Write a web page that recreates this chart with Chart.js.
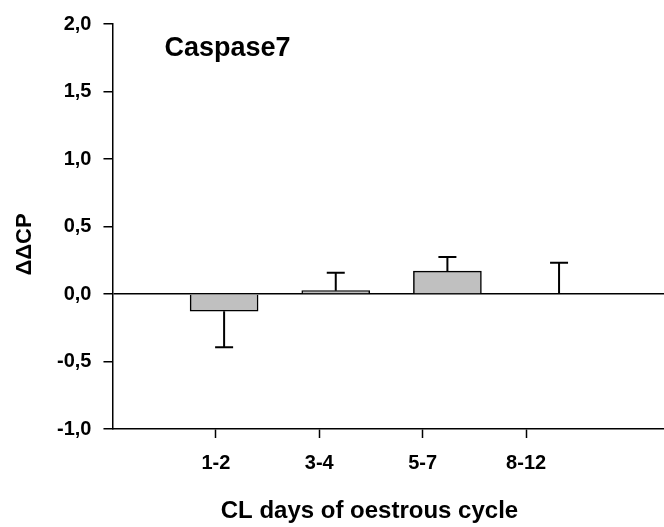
<!DOCTYPE html>
<html>
<head>
<meta charset="utf-8">
<script src="https://cdn.jsdelivr.net/npm/chart.js@4"></script>
<style>
  body { margin: 0; background: #fff; }
  #wrap { width: 664px; height: 527px; position: relative; }
</style>
</head>
<body>
<div id="wrap"><canvas id="chart"></canvas></div>
<script>
// data
const categories = ['1-2', '3-4', '5-7', '8-12'];
const ddcp = [-0.128, 0.025, 0.17, 0];
const sem = [0.267, 0.133, 0.104, 0.232];
const yTicks = [-1, -0.5, 0, 0.5, 1, 1.5, 2];
const chartTitle = 'Caspase7';
const xTitle = 'CL days of oestrous cycle';
const yTitle = 'ΔΔCP';

const FONT = "'Liberation Sans', Arial, sans-serif";

// one-sided error bars, drawn away from zero
const errorBars = {
    id: 'errorBars',
    afterDatasetsDraw(chart) {
        const xs = chart.scales.x;
        const ys = chart.scales.y;
        const ctx = chart.ctx;
        ctx.save();
        ctx.strokeStyle = '#000';
        ctx.lineWidth = 2;
        ddcp.forEach((v, i) => {
            const dir = v < 0 ? -1 : 1;
            const px = xs.getPixelForValue(i + 1);
            const y0 = ys.getPixelForValue(v);
            const y1 = ys.getPixelForValue(v + dir * sem[i]);
            ctx.beginPath();
            ctx.moveTo(px, y0);
            ctx.lineTo(px, y1);
            ctx.moveTo(px - 9, y1);
            ctx.lineTo(px + 9, y1);
            ctx.stroke();
        });
        ctx.restore();
    }
};

// gene name inside the plot + axis titles (placed off-centre like the original)
const texts = {
    id: 'texts',
    afterDraw(chart) {
        const a = chart.chartArea;
        const ctx = chart.ctx;
        ctx.save();
        ctx.fillStyle = '#000';
        ctx.textBaseline = 'alphabetic';
        ctx.font = 'bold 27px ' + FONT;
        ctx.fillText(chartTitle, a.left + 52, a.top + 32);

        ctx.font = 'bold 24px ' + FONT;
        ctx.textAlign = 'center';
        ctx.fillText(xTitle, a.left + 257, a.bottom + 89);

        ctx.translate(a.left - 88, (a.top + a.bottom) / 2 + 18);
        ctx.rotate(-Math.PI / 2);
        ctx.font = 'bold 22px ' + FONT;
        ctx.textBaseline = 'middle';
        ctx.fillText(yTitle, 0, 0);
        ctx.restore();
    }
};

new Chart(document.getElementById('chart'), {
    type: 'bar',
    data: {
        datasets: [{
            data: ddcp.map((v, i) => ({ x: i + 1, y: v })),
            xAxisID: 'x',
            backgroundColor: '#c0c0c0',
            borderColor: '#000',
            borderWidth: 1.5,
            barThickness: 68
        }]
    },
    options: {
        responsive: true,
        maintainAspectRatio: false,
        animation: false,
        layout: { padding: { left: 45, top: 23, right: 0, bottom: 39 } },
        plugins: {
            legend: { display: false },
            tooltip: { enabled: false }
        },
        scales: {
            x: {
                type: 'linear',
                display: false,
                min: 0,
                max: 4.94,
                offset: false,
                grid: { offset: false }
            },
            xl: {
                type: 'linear',
                position: 'bottom',
                min: 0,
                max: 16 / 3,
                offset: false,
                afterBuildTicks(scale) {
                    scale.ticks = categories.map((c, i) => ({ value: i + 1 }));
                },
                ticks: {
                    autoSkip: false,
                    maxRotation: 0,
                    padding: 13,
                    color: '#000',
                    font: { family: FONT, size: 20, weight: 'bold' },
                    callback: (v) => categories[v - 1]
                },
                grid: {
                    offset: false,
                    drawOnChartArea: false,
                    tickLength: 9,
                    tickColor: '#000',
                    tickWidth: 1.5
                },
                border: { display: true, color: '#000', width: 1.5 }
            },
            y: {
                min: -1,
                max: 2,
                afterBuildTicks(scale) {
                    scale.ticks = yTicks.map(v => ({ value: v }));
                },
                ticks: {
                    padding: 12,
                    color: '#000',
                    font: { family: FONT, size: 20, weight: 'bold' },
                    callback: (v) => v.toFixed(1).replace('.', ',')
                },
                grid: {
                    drawOnChartArea: true,
                    color: (c) => (c.tick && c.tick.value === 0) ? '#000' : 'rgba(0,0,0,0)',
                    lineWidth: 1.5,
                    tickLength: 9,
                    tickColor: '#000',
                    tickWidth: 1.5
                },
                border: { display: true, color: '#000', width: 1.5 }
            }
        }
    },
    plugins: [errorBars, texts]
});
</script>
</body>
</html>
